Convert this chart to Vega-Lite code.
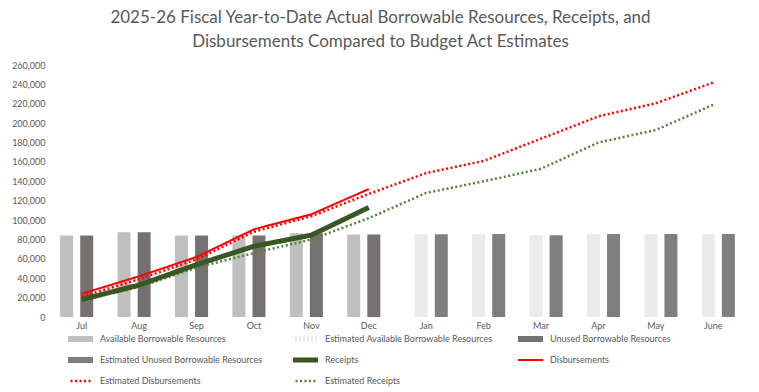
{
  "$schema": "https://vega.github.io/schema/vega-lite/v6.json",
  "width": 689,
  "height": 252,
  "autosize": {"type": "none"},
  "padding": {"left": 53, "top": 65, "right": 17, "bottom": 75},
  "background": "white",
  "title": {
    "text": ["2025-26 Fiscal Year-to-Date Actual Borrowable Resources, Receipts, and", "Disbursements Compared to Budget Act Estimates"],
    "font": "Lato", "fontSize": 17, "fontWeight": "normal", "color": "#595959",
    "anchor": "middle", "dx": -17, "offset": 10, "lineHeight": 24
  },
  "config": {
    "view": {"stroke": null},
    "axis": {"labelFont": "Lato", "labelColor": "#595959", "labelFontSize": 9, "grid": false, "ticks": false, "domain": false, "title": null},
    "legend": {
      "orient": "none", "legendX": 15, "legendY": 264, "direction": "horizontal", "columns": 3,
      "gridAlign": "all", "columnPadding": 25, "rowPadding": 1, "clipHeight": 20, "symbolType": "M-1.59,0H1.59", "symbolSize": 289,
      "labelFont": "Lato", "labelFontSize": 9, "labelColor": "#595959", "labelLimit": 300, "labelOffset": 9
    }
  },
  "datasets": {
    "bars": [
      {"month": "Jul", "series": "Available Borrowable Resources", "value": 84000},
      {"month": "Aug", "series": "Available Borrowable Resources", "value": 87500},
      {"month": "Sep", "series": "Available Borrowable Resources", "value": 84000},
      {"month": "Oct", "series": "Available Borrowable Resources", "value": 84000},
      {"month": "Nov", "series": "Available Borrowable Resources", "value": 86500},
      {"month": "Dec", "series": "Available Borrowable Resources", "value": 85000},
      {"month": "Jul", "series": "Unused Borrowable Resources", "value": 84000},
      {"month": "Aug", "series": "Unused Borrowable Resources", "value": 87500},
      {"month": "Sep", "series": "Unused Borrowable Resources", "value": 84000},
      {"month": "Oct", "series": "Unused Borrowable Resources", "value": 84000},
      {"month": "Nov", "series": "Unused Borrowable Resources", "value": 86500},
      {"month": "Dec", "series": "Unused Borrowable Resources", "value": 85000},
      {"month": "Jan", "series": "Estimated Available Borrowable Resources", "value": 85300},
      {"month": "Feb", "series": "Estimated Available Borrowable Resources", "value": 85700},
      {"month": "Mar", "series": "Estimated Available Borrowable Resources", "value": 84300},
      {"month": "Apr", "series": "Estimated Available Borrowable Resources", "value": 85700},
      {"month": "May", "series": "Estimated Available Borrowable Resources", "value": 85700},
      {"month": "June", "series": "Estimated Available Borrowable Resources", "value": 85700},
      {"month": "Jan", "series": "Estimated Unused Borrowable Resources", "value": 85300},
      {"month": "Feb", "series": "Estimated Unused Borrowable Resources", "value": 85700},
      {"month": "Mar", "series": "Estimated Unused Borrowable Resources", "value": 84300},
      {"month": "Apr", "series": "Estimated Unused Borrowable Resources", "value": 85700},
      {"month": "May", "series": "Estimated Unused Borrowable Resources", "value": 85700},
      {"month": "June", "series": "Estimated Unused Borrowable Resources", "value": 85700}
    ],
    "lines": [
      {"month": "Jul", "idx": 1, "series": "Estimated Disbursements", "value": 21000},
      {"month": "Aug", "idx": 2, "series": "Estimated Disbursements", "value": 39000},
      {"month": "Sep", "idx": 3, "series": "Estimated Disbursements", "value": 59500},
      {"month": "Oct", "idx": 4, "series": "Estimated Disbursements", "value": 88000},
      {"month": "Nov", "idx": 5, "series": "Estimated Disbursements", "value": 104000},
      {"month": "Dec", "idx": 6, "series": "Estimated Disbursements", "value": 127000},
      {"month": "Jan", "idx": 7, "series": "Estimated Disbursements", "value": 148500},
      {"month": "Feb", "idx": 8, "series": "Estimated Disbursements", "value": 161000},
      {"month": "Mar", "idx": 9, "series": "Estimated Disbursements", "value": 184000},
      {"month": "Apr", "idx": 10, "series": "Estimated Disbursements", "value": 207000},
      {"month": "May", "idx": 11, "series": "Estimated Disbursements", "value": 220500},
      {"month": "June", "idx": 12, "series": "Estimated Disbursements", "value": 242000},
      {"month": "Jul", "idx": 1, "series": "Estimated Receipts", "value": 17000},
      {"month": "Aug", "idx": 2, "series": "Estimated Receipts", "value": 31000},
      {"month": "Sep", "idx": 3, "series": "Estimated Receipts", "value": 51000},
      {"month": "Oct", "idx": 4, "series": "Estimated Receipts", "value": 66000},
      {"month": "Nov", "idx": 5, "series": "Estimated Receipts", "value": 80000},
      {"month": "Dec", "idx": 6, "series": "Estimated Receipts", "value": 102000},
      {"month": "Jan", "idx": 7, "series": "Estimated Receipts", "value": 128000},
      {"month": "Feb", "idx": 8, "series": "Estimated Receipts", "value": 140000},
      {"month": "Mar", "idx": 9, "series": "Estimated Receipts", "value": 153000},
      {"month": "Apr", "idx": 10, "series": "Estimated Receipts", "value": 180000},
      {"month": "May", "idx": 11, "series": "Estimated Receipts", "value": 193000},
      {"month": "June", "idx": 12, "series": "Estimated Receipts", "value": 219000},
      {"month": "Jul", "idx": 1, "series": "Disbursements", "value": 24000},
      {"month": "Aug", "idx": 2, "series": "Disbursements", "value": 42000},
      {"month": "Sep", "idx": 3, "series": "Disbursements", "value": 62000},
      {"month": "Oct", "idx": 4, "series": "Disbursements", "value": 90500},
      {"month": "Nov", "idx": 5, "series": "Disbursements", "value": 106000},
      {"month": "Dec", "idx": 6, "series": "Disbursements", "value": 132000},
      {"month": "Jul", "idx": 1, "series": "Receipts", "value": 18000},
      {"month": "Aug", "idx": 2, "series": "Receipts", "value": 33000},
      {"month": "Sep", "idx": 3, "series": "Receipts", "value": 54000},
      {"month": "Oct", "idx": 4, "series": "Receipts", "value": 73000},
      {"month": "Nov", "idx": 5, "series": "Receipts", "value": 84500},
      {"month": "Dec", "idx": 6, "series": "Receipts", "value": 113000}
    ]
  },
  "layer": [
    {
      "data": {"name": "bars"},
      "mark": {"type": "bar", "width": 13},
      "encoding": {
        "x": {"field": "month", "type": "nominal", "sort": ["Jul", "Aug", "Sep", "Oct", "Nov", "Dec", "Jan", "Feb", "Mar", "Apr", "May", "June"],
              "scale": {"paddingInner": 0.3, "paddingOuter": 0.15}, "axis": {"labelAngle": 0, "labelPadding": 4}},
        "xOffset": {"field": "series", "type": "nominal", "scale": {"domain": ["Available Borrowable Resources", "Estimated Available Borrowable Resources", "Unused Borrowable Resources", "Estimated Unused Borrowable Resources"], "paddingInner": 0, "paddingOuter": 0}},
        "y": {"field": "value", "type": "quantitative", "scale": {"domain": [0, 260000], "nice": false},
              "axis": {"values": [0, 20000, 40000, 60000, 80000, 100000, 120000, 140000, 160000, 180000, 200000, 220000, 240000, 260000], "format": ",.0f", "labelPadding": 8}},
        "color": {"field": "series", "type": "nominal", "legend": {"title": null},
                  "scale": {"domain": ["Available Borrowable Resources", "Estimated Available Borrowable Resources", "Unused Borrowable Resources", "Estimated Unused Borrowable Resources", "Receipts", "Disbursements", "Estimated Disbursements", "Estimated Receipts"],
                            "range": ["#bfbfbf", "#ebebeb", "#767171", "#7f7f7f", "#385723", "#ff0000", "#ff0000", "#548235"]}}
      }
    },
    {
      "data": {"name": "lines"},
      "mark": {"type": "line"},
      "encoding": {
        "x": {"field": "month", "type": "nominal", "sort": ["Jul", "Aug", "Sep", "Oct", "Nov", "Dec", "Jan", "Feb", "Mar", "Apr", "May", "June"], "axis": {"labelAngle": 0, "labelPadding": 4}},
        "y": {"field": "value", "type": "quantitative",
              "axis": {"values": [0, 20000, 40000, 60000, 80000, 100000, 120000, 140000, 160000, 180000, 200000, 220000, 240000, 260000], "format": ",.0f", "labelPadding": 8}},
        "order": {"field": "idx", "type": "quantitative"},
        "color": {"field": "series", "type": "nominal", "legend": {"title": null}},
        "strokeDash": {"field": "series", "type": "nominal", "legend": {"title": null},
                       "scale": {"domain": ["Available Borrowable Resources", "Estimated Available Borrowable Resources", "Unused Borrowable Resources", "Estimated Unused Borrowable Resources", "Receipts", "Disbursements", "Estimated Disbursements", "Estimated Receipts"],
                                 "range": [[1, 0], [2, 2], [1, 0], [1, 0], [1, 0], [1, 0], [2, 2.5], [2, 2.5]]}},
        "strokeWidth": {"field": "series", "type": "nominal", "legend": {"title": null},
                        "scale": {"type": "ordinal", "domain": ["Available Borrowable Resources", "Estimated Available Borrowable Resources", "Unused Borrowable Resources", "Estimated Unused Borrowable Resources", "Receipts", "Disbursements", "Estimated Disbursements", "Estimated Receipts"],
                                  "range": [6, 6, 6, 6, 5, 2, 2.5, 2.5]}}
      }
    }
  ]
}
